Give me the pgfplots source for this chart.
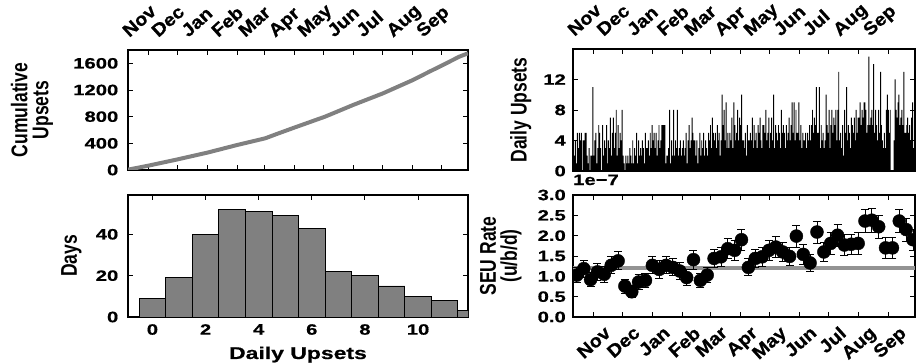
\documentclass[border=0pt]{standalone}
\usepackage{fontspec}
\setmainfont{Liberation Sans}
\usepackage{pgfplots}
\usepackage{pgfplotstable}
\pgfplotsset{compat=1.18}
\newfontfamily\tickfam{Liberation Sans}[FakeStretch=1.35,FakeBold=0.6]
\newfontfamily\monthfam{Liberation Sans}[FakeStretch=1.1,FakeBold=0.8]
\newcommand\tickfont{\tickfam\bfseries\fontsize{15}{15}\selectfont}
\newcommand\monthfont{\monthfam\bfseries\fontsize{18}{18}\selectfont}
\newcommand\labfont{\bfseries\fontsize{17.5}{21}\selectfont}
\newcommand\xlabfont{\tickfam\bfseries\fontsize{17}{20}\selectfont}
\newcommand\vl[1]{\scalebox{1}[1.3]{#1}}

\pgfplotstableread{
x y
0 5
21 65
50 155
82 260
113 375
142 475
154 540
173 640
204 800
233 975
264 1150
295 1350
312 1475
326 1575
343 1700
352 1750
}\cum

\pgfplotstableread[row sep=\\,header=false]{
4\\2\\4\\1\\5\\3\\5\\
4\\5\\0\\4\\4\\5\\5\\
2\\1\\3\\0\\2\\2\\11\\
2\\4\\5\\1\\3\\6\\5\\
3\\0\\6\\2\\4\\3\\6\\
1\\4\\3\\7\\2\\5\\7\\
3\\5\\8\\2\\6\\3\\5\\
4\\8\\2\\1\\0\\2\\1\\
2\\1\\3\\2\\1\\4\\1\\
3\\2\\5\\1\\4\\2\\3\\
2\\4\\3\\1\\5\\3\\3\\
4\\2\\5\\3\\6\\4\\5\\
3\\5\\2\\4\\6\\3\\4\\
6\\6\\6\\6\\1\\2\\2\\
3\\8\\1\\4\\2\\8\\2\\
4\\3\\8\\2\\3\\4\\2\\
3\\4\\2\\3\\5\\1\\4\\
6\\3\\4\\7\\5\\4\\4\\
2\\4\\1\\3\\5\\2\\4\\
3\\5\\2\\4\\3\\2\\5\\
4\\6\\3\\7\\5\\4\\5\\
3\\6\\4\\5\\2\\4\\10\\
6\\8\\4\\9\\3\\5\\3\\
5\\4\\7\\3\\9\\6\\4\\
5\\8\\4\\7\\6\\10\\4\\
4\\3\\5\\2\\6\\4\\4\\
5\\4\\7\\3\\6\\4\\5\\
3\\6\\5\\7\\4\\3\\6\\
6\\5\\8\\4\\5\\7\\3\\
5\\7\\4\\10\\3\\6\\5\\
4\\6\\5\\3\\8\\5\\6\\
5\\3\\6\\4\\5\\7\\4\\
6\\9\\5\\9\\4\\8\\5\\
5\\9\\4\\6\\3\\5\\4\\
4\\5\\3\\5\\4\\6\\4\\
6\\8\\5\\7\\6\\11\\5\\
5\\11\\3\\6\\4\\5\\3\\
4\\10\\6\\5\\8\\3\\6\\
8\\5\\7\\6\\8\\4\\8\\
13\\4\\5\\3\\6\\2\\8\\
5\\11\\4\\6\\5\\3\\7\\
6\\5\\7\\4\\8\\5\\7\\
7\\9\\6\\8\\7\\9\\9\\
8\\5\\6\\15\\6\\7\\8\\
6\\14\\5\\8\\6\\4\\8\\
5\\13\\6\\4\\3\\5\\3\\
8\\10\\8\\5\\8\\0\\0\\
0\\4\\12\\8\\7\\9\\10\\
6\\7\\8\\6\\13\\5\\5\\
6\\7\\5\\6\\4\\7\\9\\
3\\9\\9\\
}\daily

\pgfplotstableread{
x y e
4.0 1.03 0.19
11.1 1.19 0.21
18.1 0.92 0.18
25.2 1.11 0.20
32.2 1.05 0.19
39.3 1.27 0.21
46.4 1.38 0.22
53.4 0.76 0.17
60.5 0.62 0.15
67.5 0.86 0.18
74.6 0.90 0.18
81.7 1.27 0.21
88.7 1.17 0.21
95.8 1.27 0.21
102.8 1.22 0.21
109.9 1.13 0.20
117.0 0.97 0.19
124.0 1.41 0.23
131.1 0.90 0.18
138.1 1.03 0.19
145.2 1.44 0.23
152.3 1.48 0.23
159.3 1.68 0.25
166.4 1.64 0.24
173.4 1.90 0.26
180.5 1.22 0.21
187.6 1.44 0.23
194.6 1.48 0.23
201.7 1.64 0.24
208.7 1.72 0.25
215.8 1.60 0.24
222.9 1.49 0.23
229.9 1.99 0.27
237.0 1.54 0.24
244.0 1.33 0.22
251.1 2.09 0.27
258.2 1.60 0.24
265.2 1.81 0.26
272.3 2.01 0.27
279.3 1.77 0.25
286.4 1.79 0.25
293.5 1.81 0.26
300.5 2.36 0.29
307.6 2.38 0.29
314.6 2.22 0.28
321.7 1.70 0.25
328.8 1.70 0.25
335.8 2.36 0.29
342.9 2.15 0.28
349.9 1.90 0.26
}\seu

\pgfplotsset{
  common/.style={
    scale only axis, anchor=south west,
    tick align=inside,
    axis line style={line width=1.8pt},
    every tick/.style={black, line width=0.9pt},
    major tick length=5pt,
    xtick pos=both, ytick pos=both,
    /pgf/number format/assume math mode=true,
    tick label style={font=\tickfont},
    yticklabel style={anchor=east, inner sep=0pt},
    ylabel style={anchor=south, inner sep=0pt, font=\labfont, align=center},
    clip marker paths=true,
  },
  months/.style={
    xtick={21,51,82,113,141,172,202,233,263,294,325},
    xticklabels={Nov,Dec,Jan,Feb,Mar,Apr,May,Jun,Jul,Aug,Sep},
    xmin=0, xmax=352,
  },
  topmonths/.style={
    xticklabel pos=upper,
    xticklabel style={font=\monthfont, inner sep=0pt, xshift=-19pt, yshift=12pt, rotate=42, anchor=base west},
  },
}

\begin{document}
\begin{tikzpicture}
\useasboundingbox (0,0) rectangle (920pt,362pt);

% Cumulative upsets
\begin{axis}[common, months, topmonths,
  at={(128pt,192pt)}, width=340pt, height=120pt,
  ymin=0, ymax=1800,
  ytick={0,400,800,1200,1600}, yticklabels={0,400,800,1200,1600},
  yticklabel style={xshift=-9.5pt},
  ylabel={\vl{Cumulative}\\\vl{Upsets}},
  ylabel style={at={(axis description cs:-0.22,0.5)}},
]
\addplot[color=gray, line width=4pt] table[x=x, y=y] {\cum};
\end{axis}

% Daily upsets
\begin{axis}[common, months, topmonths,
  at={(573pt,191pt)}, width=342pt, height=122pt,
  ymin=0, ymax=16,
  ytick={0,4,8,12}, yticklabels={0,4,8,12},
  yticklabel style={xshift=-7pt},
  ylabel={\vl{Daily Upsets}},
  ylabel style={at={(axis description cs:-0.121,0.5)}},
]
\addplot[ybar interval, fill=black, draw=none] table[x expr=\coordindex, y index=0] {\daily};
\end{axis}

% Histogram
\begin{axis}[common,
  at={(128pt,45pt)}, width=340pt, height=122pt,
  xmin=-0.92, xmax=11.88, ymin=0, ymax=59,
  xtick={0,2,4,6,8,10}, xticklabels={0,2,4,6,8,10},
  ytick={0,20,40}, yticklabels={0,20,40},
  yticklabel style={xshift=-9.5pt},
  xticklabel style={anchor=north, inner sep=0pt, yshift=-7pt},
  ylabel={\vl{Days}},
  ylabel style={at={(axis description cs:-0.136,0.5)}},
  xlabel={Daily Upsets},
  xlabel style={at={(axis description cs:0.5,-0.344)}, anchor=base, font=\xlabfont, inner sep=0pt},
]
\addplot[ybar interval, fill=gray, draw=black, line width=0.9pt] coordinates {
(-0.5,9) (0.5,19) (1.5,40) (2.5,52) (3.5,51) (4.5,49) (5.5,43) (6.5,22) (7.5,20) (8.5,15) (9.5,10) (10.5,8) (11.5,3) (12.5,3)};
\end{axis}

% SEU rate
\begin{axis}[common, months,
  at={(573pt,45pt)}, width=342pt, height=122pt,
  ymin=0, ymax=3,
  ytick={0,0.5,1,1.5,2,2.5,3}, yticklabels={0.0,0.5,1.0,1.5,2.0,2.5,3.0},
  yticklabel style={xshift=-7pt},
  xticklabel style={font=\monthfont, inner sep=0pt, xshift=10pt, yshift=-8pt, rotate=42, anchor=north east},
  ylabel={\vl{SEU Rate}\\\vl{(u/b/d)}},
  ylabel style={at={(axis description cs:-0.15,0.5)}},
  title={1e−7},
  title style={at={(axis description cs:0,1)}, anchor=base west, yshift=4pt, font=\tickfont, inner sep=0pt},
]
\addplot[color=gray!85, line width=4pt] coordinates {(0,1.2) (352,1.2)};
\addplot[only marks, mark=*, mark size=6.5pt, black,
  error bars/.cd, y dir=both, y explicit,
  error bar style={line width=0.9pt, black},
  error mark options={rotate=90, mark size=4pt, line width=0.9pt, black}]
  table[x=x, y=y, y error=e] {\seu};
\end{axis}
\end{tikzpicture}
\end{document}
